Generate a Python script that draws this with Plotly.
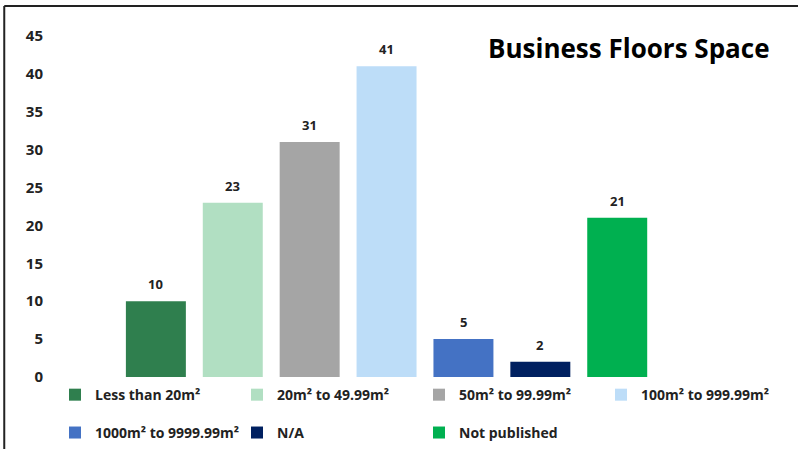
import plotly.graph_objects as go

categories = ["Less than 20m²", "20m² to 49.99m²", "50m² to 99.99m²", "100m² to 999.99m²",
              "1000m² to 9999.99m²", "N/A", "Not published"]
values = [10, 23, 31, 41, 5, 2, 21]
colors = ["#2F7F4E", "#B1DFC2", "#A5A5A5", "#BDDDF8", "#4472C4", "#002060", "#00B050"]
y_ticks = [0, 5, 10, 15, 20, 25, 30, 35, 40, 45]
title_text = "Business Floors Space"

FONT = "Open Sans"

fig = go.Figure()
for i, (cat, val, col) in enumerate(zip(categories, values, colors)):
    fig.add_trace(go.Bar(
        x=[cat], y=[val], name=cat, marker=dict(color=col, line=dict(width=0)),
        width=0.78, legend="legend" if i < 4 else "legend2",
        hoverinfo="x+y",
    ))
    fig.add_annotation(x=cat, y=val, text=str(val), showarrow=False,
                       yshift=17, yanchor="middle", xref="x", yref="y",
                       font=dict(family=FONT, size=13, color="#222", weight="bold"))

fig.add_annotation(x=0.989, xref="paper", xanchor="right", y=0.965, yref="paper", yanchor="middle",
                   text=title_text, showarrow=False,
                   font=dict(family=FONT, size=26, color="#000", weight="bold"))

# frame lines (top & left)
fig.add_shape(type="line", xref="paper", yref="paper", x0=-0.070, x1=1.03, y0=1.088, y1=1.088,
              line=dict(color="#222", width=2))
fig.add_shape(type="line", xref="paper", yref="paper", x0=-0.070, x1=-0.070, y0=1.088, y1=-0.22,
              line=dict(color="#222", width=2))

legend_common = dict(orientation="h", xanchor="left", yanchor="middle", entrywidth=137,
                     entrywidthmode="pixels", bgcolor="rgba(0,0,0,0)", borderwidth=0,
                     font=dict(family=FONT, size=14, color="#222", weight="bold"),
                     itemclick=False, itemdoubleclick=False)

fig.update_layout(
    width=798, height=449,
    margin=dict(l=55, r=18, t=36, b=72, autoexpand=False),
    paper_bgcolor="white", plot_bgcolor="white",
    barmode="overlay",
    showlegend=True,
    legend=dict(x=0.0, y=-0.053, **legend_common),
    legend2=dict(x=0.0, y=-0.164, **legend_common),
    xaxis=dict(type="category", categoryarray=categories, categoryorder="array",
               range=[-1.312, 8.117], showticklabels=False, showgrid=False,
               zeroline=False, showline=False, ticks=""),
    yaxis=dict(range=[0, 45], tickvals=y_ticks, showgrid=False, zeroline=False,
               showline=False, ticks="", ticklabelstandoff=11,
               tickfont=dict(family=FONT, size=15, color="#222", weight="bold")),
    font=dict(family=FONT),
)

fig.write_html("out.html", post_script="document.body.style.margin='0';",
               config={"displayModeBar": False})
